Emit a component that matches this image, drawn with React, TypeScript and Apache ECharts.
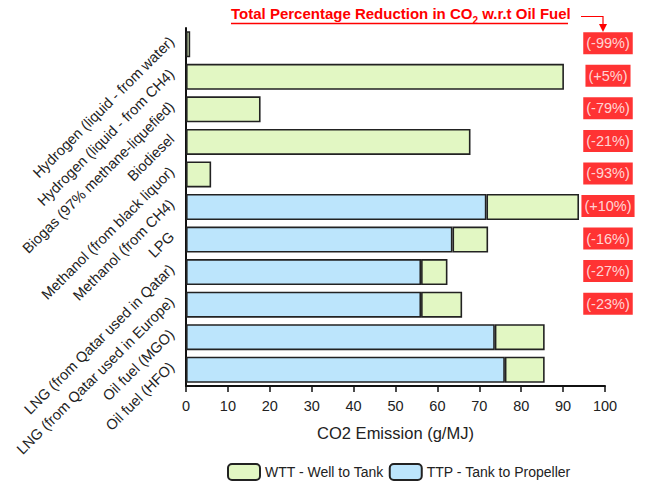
import React, { useEffect, useRef } from "react";
import * as echarts from "echarts";

const categories = [
  "Hydrogen (liquid - from water)",
  "Hydrogen (liquid - from CH4)",
  "Biogas (97% methane-liquefied)",
  "Biodiesel",
  "Methanol (from black liquor)",
  "Methanol (from CH4)",
  "LPG",
  "LNG (from Qatar used in Qatar)",
  "LNG (from Qatar used in Europe)",
  "Oil fuel (MGO)",
  "Oil fuel (HFO)",
];
const ttpValues: (number | string)[] = ["-", "-", "-", "-", "-", 71.7, 63.6, 56.1, 56.1, 73.7, 76.1];
const wttValues: number[] = [1.0, 90.2, 17.8, 67.9, 6.0, 22.1, 8.5, 6.3, 9.8, 11.9, 9.5];
const reductions: (string | null)[] = [
  "(-99%)", "(+5%)", "(-79%)", "(-21%)", "(-93%)", "(+10%)", "(-16%)", "(-27%)", "(-23%)", null, null,
];
const xTicks = { min: 0, max: 100, interval: 10 };

const FONT = "'Liberation Sans', Arial, sans-serif";
const GREEN = "#E2F7C3";
const BLUE = "#BCE5FC";
const EDGE = "#222222";

export default function App() {
  const ref = useRef<HTMLDivElement>(null);
  useEffect(() => {
    if (!ref.current) return;
    const chart = echarts.init(ref.current, undefined, { renderer: "svg" });
    const labelData = reductions
      .map((r, i) => (r ? { value: [xTicks.max, i], text: r } : null))
      .filter((d) => d !== null);
    chart.setOption({
      animation: false,
      textStyle: { fontFamily: FONT },
      grid: { left: 186, right: 40, top: 28, bottom: 98 },
      xAxis: {
        type: "value",
        min: xTicks.min,
        max: xTicks.max,
        interval: xTicks.interval,
        splitLine: { show: false },
        axisLine: { show: true, lineStyle: { color: "#111", width: 2 } },
        axisTick: { show: true, length: 6, lineStyle: { color: "#111", width: 1.5 } },
        axisLabel: { fontSize: 14.5, color: "#222", margin: 12, fontFamily: FONT },
        name: "CO2 Emission (g/MJ)",
        nameLocation: "middle",
        nameGap: 38,
        nameTextStyle: { fontSize: 16.5, color: "#222", fontFamily: FONT },
      },
      yAxis: {
        type: "category",
        data: categories,
        inverse: true,
        axisLine: { show: true, lineStyle: { color: "#111", width: 2 } },
        axisTick: { show: false },
        axisLabel: {
          rotate: 45,
          fontSize: 14.6,
          color: "#222",
          margin: 9,
          fontFamily: FONT,
          interval: 0,
          align: "right",
          verticalAlign: "bottom",
        },
      },
      legend: {
        left: 227,
        top: 463,
        padding: 0,
        itemWidth: 32,
        itemHeight: 16,
        itemGap: 5,
        data: ["WTT - Well to Tank", "TTP - Tank to Propeller"],
        textStyle: { fontSize: 14, color: "#222", fontFamily: FONT },
      },
      series: [
        {
          name: "TTP - Tank to Propeller",
          type: "bar",
          stack: "total",
          data: ttpValues,
          barWidth: 26,
          itemStyle: { color: BLUE, borderColor: EDGE, borderWidth: 1.6 },
        },
        {
          name: "WTT - Well to Tank",
          type: "bar",
          stack: "total",
          data: wttValues,
          barWidth: 26,
          itemStyle: { color: GREEN, borderColor: EDGE, borderWidth: 1.6 },
        },
        {
          name: "reduction",
          type: "scatter",
          data: labelData,
          symbolSize: 1,
          clip: false,
          itemStyle: { color: "rgba(0,0,0,0)" },
          silent: true,
          z: 10,
          label: {
            show: true,
            position: "inside",
            offset: [3, -1],
            formatter: (p: any) => p.data.text,
            color: "#fff",
            fontSize: 14.5,
            fontFamily: FONT,
            backgroundColor: "#FF0000",
            padding: [3, 3, 3, 3],
            lineHeight: 16,
          },
        },
      ],
      graphic: [
        {
          type: "text",
          left: 231,
          top: 6,
          style: {
            text: "{a|Total Percentage Reduction in CO}{s|2}{a| w.r.t Oil Fuel}",
            rich: {
              a: { fontSize: 15, fontWeight: "bold", fill: "#FF0000", fontFamily: FONT, lineHeight: 24, verticalAlign: "middle" },
              s: { fontSize: 10, fontWeight: "bold", fill: "#FF0000", fontFamily: FONT, lineHeight: 9, verticalAlign: "bottom" },
            },
          },
        },
        {
          type: "line",
          shape: { x1: 231, y1: 23.5, x2: 568, y2: 23.5 },
          style: { stroke: "#FF0000", lineWidth: 1.5 },
        },
        {
          type: "polyline",
          shape: { points: [[581, 16.5], [603, 16.5], [603, 27]] },
          style: { stroke: "#FF0000", lineWidth: 1.2, fill: "none" },
        },
        {
          type: "polygon",
          shape: { points: [[599, 24], [607, 24], [603, 32]] },
          style: { fill: "#FF0000" },
        },
      ],
    });
    return () => chart.dispose();
  }, []);
  return (
    <div
      ref={ref}
      style={{ position: "absolute", left: 0, top: 0, width: 645, height: 484 }}
    />
  );
}
